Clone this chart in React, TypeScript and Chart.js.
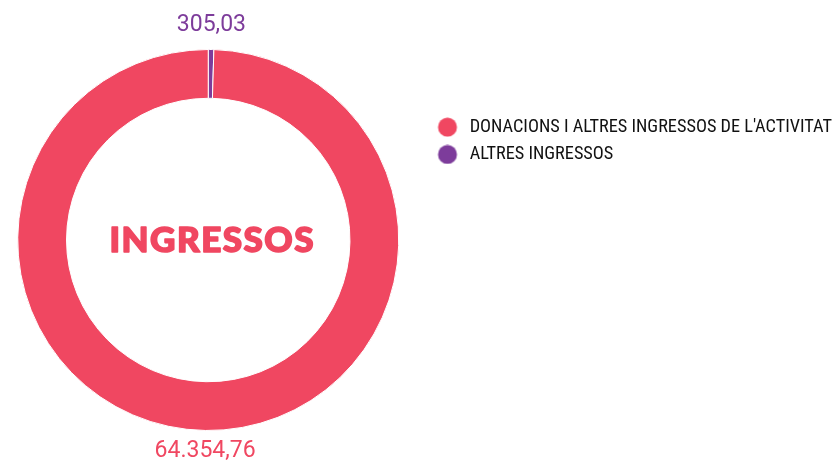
import React, { useEffect, useRef } from 'react';
import { Chart, registerables } from 'chart.js';

Chart.register(...registerables);

// ---- data ----
const categories = ["DONACIONS I ALTRES INGRESSOS DE L'ACTIVITAT", 'ALTRES INGRESSOS'];
const values = [64354.76, 305.03];
const colors = ['#F04761', '#7D3C9B'];
const centerTitle = 'INGRESSOS';

// drawing order: the small slice starts at the top, clockwise
const drawOrder = [1, 0];

// ---- styles ----
const labelRadialOffset = [21, 24]; // by category index
const legendFont = '"Roboto Condensed", "Liberation Sans Narrow", "DejaVu Sans Condensed", Roboto, sans-serif';

function fmt(v: number): string {
  const [i, d] = v.toFixed(2).split('.');
  return i.replace(/\B(?=(\d{3})+(?!\d))/g, '.') + ',' + d;
}

function makeDot(color: string): HTMLCanvasElement {
  const c = document.createElement('canvas');
  c.width = 43;
  c.height = 20;
  const g = c.getContext('2d')!;
  g.fillStyle = color;
  g.beginPath();
  g.arc(30, 10, 9.5, 0, Math.PI * 2);
  g.fill();
  return c;
}

const ringLabels = {
  id: 'ringLabels',
  afterDatasetsDraw(chart: any) {
    const ctx = chart.ctx;
    const meta = chart.getDatasetMeta(0);
    ctx.save();
    meta.data.forEach((arc: any, j: number) => {
      const cat = drawOrder[j];
      const { x, y, startAngle, endAngle, outerRadius } = arc.getProps(
        ['x', 'y', 'startAngle', 'endAngle', 'outerRadius'],
        true
      );
      const mid = (startAngle + endAngle) / 2;
      const r = outerRadius + labelRadialOffset[cat];
      const lx = x + Math.cos(mid) * r;
      const ly = y + Math.sin(mid) * r;
      ctx.font = '23px Roboto, sans-serif';
      ctx.fillStyle = colors[cat];
      ctx.textAlign = 'center';
      ctx.textBaseline = 'middle';
      ctx.fillText(fmt(values[cat]), lx, ly);
    });
    const a = meta.data[0];
    if (a) {
      ctx.font = '900 35px "Lato Black", Lato, Roboto, sans-serif';
      try {
        (ctx as any).letterSpacing = '1.5px';
      } catch (e) {}
      ctx.fillStyle = colors[0];
      ctx.strokeStyle = colors[0];
      ctx.lineWidth = 1.6;
      ctx.lineJoin = 'round';
      ctx.textAlign = 'center';
      ctx.textBaseline = 'middle';
      ctx.fillText(centerTitle, a.x + 4, a.y + 1);
      ctx.strokeText(centerTitle, a.x + 4, a.y + 1);
    }
    ctx.restore();
  },
};

export default function App() {
  const ref = useRef<HTMLCanvasElement | null>(null);

  useEffect(() => {
    document.body.style.margin = '0';
    if (!ref.current) return;
    const dots = colors.map(makeDot);
    const chart = new Chart(ref.current, {
      type: 'doughnut',
      data: {
        labels: drawOrder.map((i) => categories[i]),
        datasets: [
          {
            data: drawOrder.map((i) => values[i]),
            backgroundColor: drawOrder.map((i) => colors[i]),
            borderColor: '#ffffff',
            borderWidth: 1,
            hoverOffset: 0,
          },
        ],
      },
      options: {
        animation: false,
        responsive: true,
        maintainAspectRatio: false,
        cutout: '74.4%',
        layout: { padding: { left: 8, right: -5, top: 49, bottom: 31 } },
        plugins: {
          tooltip: { enabled: false },
          legend: {
            position: 'right',
            align: 'start',
            maxWidth: 600,
            title: { display: true, text: '', font: { size: 10, lineHeight: 1 }, padding: { top: 50, bottom: 0 } },
            labels: {
              usePointStyle: true,
              pointStyleWidth: 43,
              padding: 9,
              color: '#111111',
              font: { family: legendFont, size: 18.3 },
              generateLabels: () =>
                categories.map((text, i) => ({
                  text,
                  fillStyle: colors[i],
                  strokeStyle: colors[i],
                  fontColor: '#111111',
                  lineWidth: 0,
                  pointStyle: dots[i],
                  hidden: false,
                  index: drawOrder.indexOf(i),
                })),
            },
          },
        },
      } as any,
      plugins: [ringLabels],
    });
    return () => chart.destroy();
  }, []);

  return (
    <div style={{ width: 837, height: 462, position: 'relative' }}>
      <canvas ref={ref} />
    </div>
  );
}
